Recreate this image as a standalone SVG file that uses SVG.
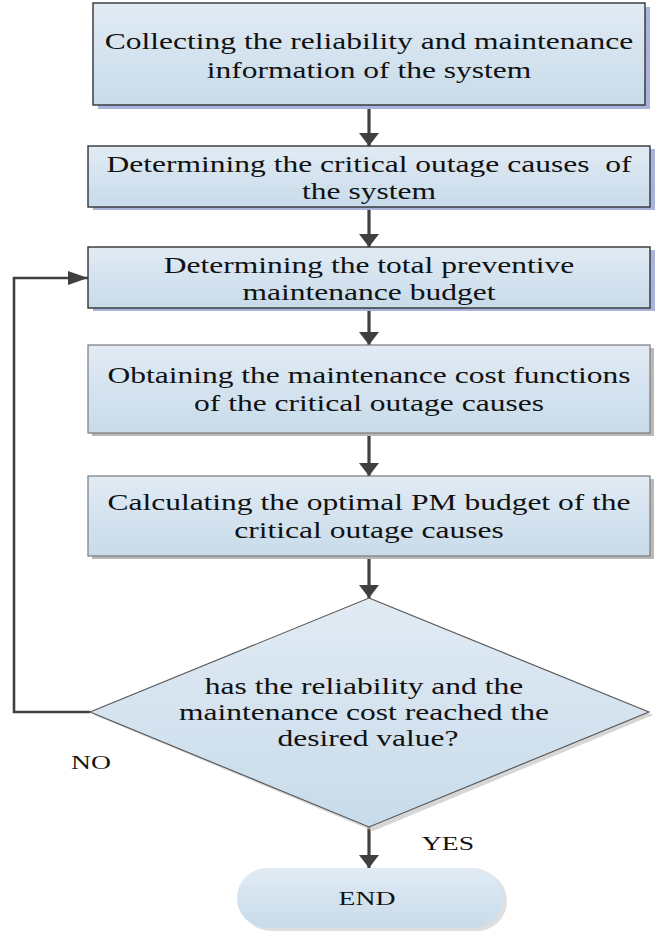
<svg xmlns="http://www.w3.org/2000/svg" width="657" height="932" viewBox="0 0 657 932">
  <defs>
    <linearGradient id="fillBlue" x1="0" y1="0" x2="0" y2="1">
      <stop offset="0" stop-color="#e1ebf4"/>
      <stop offset="1" stop-color="#c8dbea"/>
    </linearGradient>
    <marker id="headV" markerUnits="userSpaceOnUse" markerWidth="14" markerHeight="22" refX="13" refY="10" orient="auto">
      <path d="M0,0 L13,10 L0,20 Z" fill="#404040"/>
    </marker>
    <marker id="headH" markerUnits="userSpaceOnUse" markerWidth="21" markerHeight="16" refX="20" refY="7" orient="auto">
      <path d="M0,0 L20,7 L0,14 Z" fill="#404040"/>
    </marker>
    <style>
      .box { fill: url(#fillBlue); stroke: #333; stroke-width: 1.4; }
      .boxg { fill: url(#fillBlue); stroke: #7a7a7a; stroke-width: 1.2; }
      .shB { fill: #a8b4dc; }
      .shG { fill: #b9b9b9; }
      .t { font-family: "Liberation Serif", "Times New Roman", serif; font-size: 23px; fill: #111; text-anchor: middle; white-space: pre; }
      .s { font-family: "Liberation Serif", "Times New Roman", serif; font-size: 19.5px; fill: #111; text-anchor: middle; }
      .v { fill: none; stroke: #404040; stroke-width: 3.2; }
      .h { fill: none; stroke: #404040; stroke-width: 2.6; }
    </style>
  </defs>

  <!-- connectors -->
  <g id="connectors">
    <line class="v" x1="369" y1="105" x2="369" y2="146" marker-end="url(#headV)"/>
    <line class="v" x1="369" y1="207" x2="369" y2="247" marker-end="url(#headV)"/>
    <line class="v" x1="369" y1="308" x2="369" y2="345" marker-end="url(#headV)"/>
    <line class="v" x1="369" y1="433" x2="369" y2="476" marker-end="url(#headV)"/>
    <line class="v" x1="369" y1="556" x2="369" y2="598" marker-end="url(#headV)"/>
    <line class="v" x1="369" y1="827" x2="369" y2="868" marker-end="url(#headV)"/>
    <path class="h" d="M90,712 H14 V278 H88" marker-end="url(#headH)"/>
  </g>

  <g id="collect">
    <rect class="shB" x="98" y="7" width="552" height="102"/>
    <rect class="box" x="93" y="3" width="552" height="102"/>
    <text class="t" transform="matrix(1.37 0 0 1 369 49)">Collecting the reliability and maintenance</text>
    <text class="t" transform="matrix(1.37 0 0 1 369 78)">information of the system</text>
  </g>

  <g id="critical">
    <rect class="shB" x="93" y="149" width="562" height="61"/>
    <rect class="box" x="88" y="146" width="562" height="61"/>
    <text class="t" transform="matrix(1.37 0 0 1 369 172)">Determining the critical outage causes  of</text>
    <text class="t" transform="matrix(1.37 0 0 1 369 199)">the system</text>
  </g>

  <g id="budget">
    <rect class="shB" x="93" y="250" width="562" height="61"/>
    <rect class="box" x="88" y="247" width="562" height="61"/>
    <text class="t" transform="matrix(1.37 0 0 1 369 273)">Determining the total preventive</text>
    <text class="t" transform="matrix(1.37 0 0 1 369 300)">maintenance budget</text>
  </g>

  <g id="costfunc">
    <rect class="shG" x="92" y="348" width="562" height="88"/>
    <rect class="boxg" x="88" y="345" width="562" height="88"/>
    <text class="t" transform="matrix(1.37 0 0 1 369 383)">Obtaining the maintenance cost functions</text>
    <text class="t" transform="matrix(1.37 0 0 1 369 411)">of the critical outage causes</text>
  </g>

  <g id="optimal">
    <rect class="shG" x="92" y="479" width="562" height="80"/>
    <rect class="boxg" x="88" y="476" width="562" height="80"/>
    <text class="t" transform="matrix(1.37 0 0 1 369 510)">Calculating the optimal PM budget of the</text>
    <text class="t" transform="matrix(1.37 0 0 1 369 538)">critical outage causes</text>
  </g>

  <g id="decision">
    <polygon points="373,601 653,715 373,831 94,715" fill="#c4c4c4" opacity="0.7"/>
    <polygon points="369,598 649,712 369,827 90,712" fill="url(#fillBlue)" stroke="#555" stroke-width="1.1"/>
    <text class="t" transform="matrix(1.37 0 0 1 364 694)">has the reliability and the</text>
    <text class="t" transform="matrix(1.37 0 0 1 364 720)">maintenance cost reached the</text>
    <text class="t" transform="matrix(1.37 0 0 1 368 746)">desired value?</text>
  </g>

  <g id="labels">
    <text class="s" transform="matrix(1.42 0 0 1 91 769)">NO</text>
    <text class="s" transform="matrix(1.42 0 0 1 448 850)">YES</text>
  </g>

  <g id="end">
    <rect x="241" y="871" width="266" height="60" rx="30" ry="30" fill="#c9c9c9" opacity="0.6"/>
    <rect x="237" y="868" width="266" height="60" rx="30" ry="30" fill="url(#fillBlue)"/>
    <text class="s" transform="matrix(1.42 0 0 1 367 905)">END</text>
  </g>
</svg>
